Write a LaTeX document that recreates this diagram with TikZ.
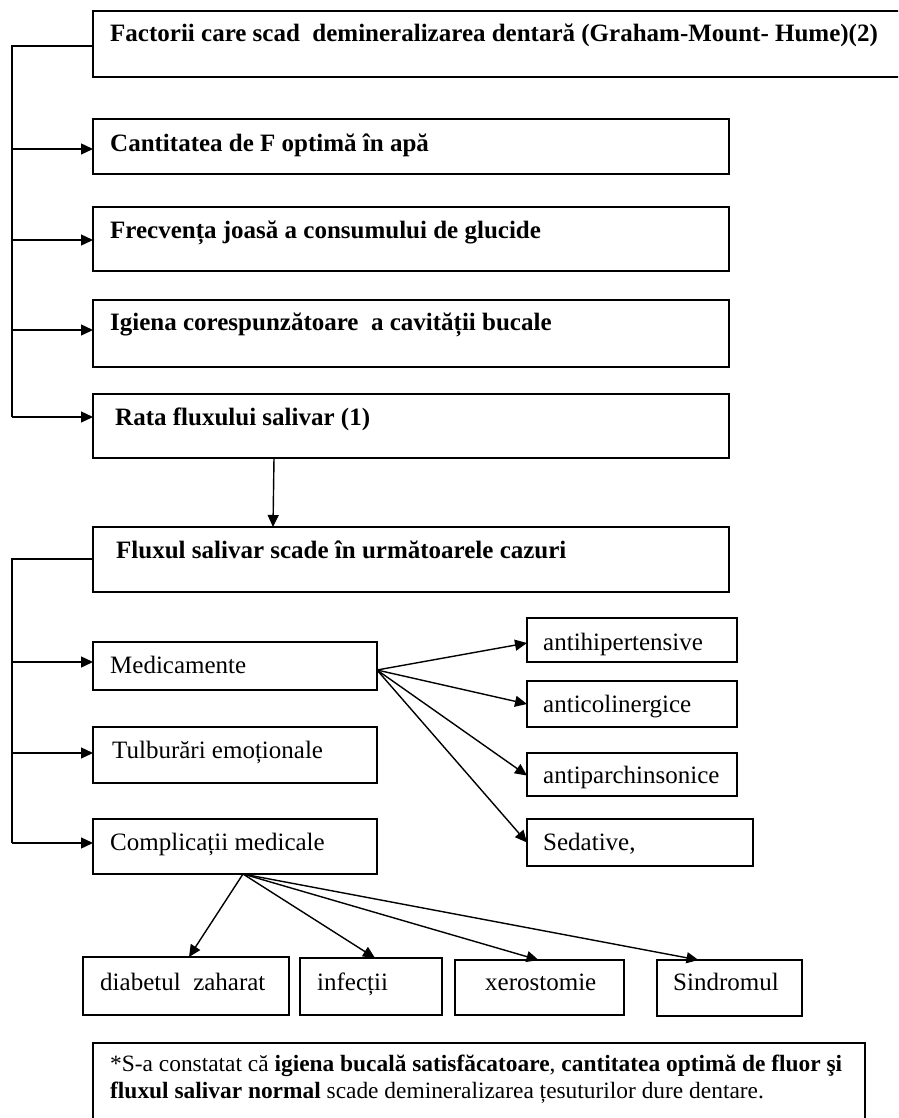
\documentclass[tikz,border=0pt]{standalone}
\usepackage{fontspec}
\setmainfont{Liberation Serif}
\usetikzlibrary{arrows.meta,calc}
% one unit = 1pt, y grows downwards
\newcommand\panel[5]{\node[frame, minimum width={#4-#2}, minimum height={#5-#3}] (#1) at (#2,#3) {};}
\begin{document}
\begin{tikzpicture}[x=1pt,y=-1pt,
  frame/.style={draw, line width=1.5pt, inner sep=0pt, outer sep=0pt, anchor=north west},
  lbl/.style={inner sep=0pt, anchor=base west, font=\fontsize{25}{28}\selectfont},
  blbl/.style={inner sep=0pt, anchor=base west, font=\fontsize{25}{28}\selectfont\bfseries},
  nlbl/.style={inner sep=0pt, anchor=base west, font=\fontsize{23.4}{27}\selectfont},
  wire/.style={line width=1.4pt},
  arr/.style={wire, -{Triangle[length=12pt,width=11pt]}}]
\useasboundingbox (0,0) rectangle (898,1118);
\fill[white] (0,0) rectangle (898,1118);
\begin{scope}
\clip (0,0) rectangle (898,1118);

% boxes
\panel{title}{93}{11}{920}{77}
\panel{cant}{93}{119}{729}{174}
\panel{frec}{93}{207}{729}{271}
\panel{igie}{93}{300}{729}{367}
\panel{rata}{93}{394}{729}{458}
\panel{flux}{93}{527}{729}{592}
\panel{med}{93}{642}{377}{690}
\panel{tulb}{93}{727}{377}{783}
\panel{compl}{93}{819}{377}{874}
\panel{ahip}{527}{618}{737}{662}
\panel{acol}{527}{681}{737}{727}
\panel{apar}{527}{753}{737}{796}
\panel{sed}{527}{819}{753}{866}
\panel{diab}{83}{957}{289}{1015}
\panel{inf}{300}{958}{442}{1015}
\panel{xer}{455}{960}{624}{1015}
\panel{sind}{657}{960}{802}{1016}
\panel{note}{93}{1043}{865}{1140}

% texts
\node[blbl] (tTitle) at (110,42) {Factorii care scad\ \ demineralizarea dentară (Graham-Mount- Hume)(2)};
\node[blbl] (tCant) at (110,152) {Cantitatea de F optimă în apă};
\node[blbl] (tFrec) at (110,238) {Frecvența joasă a consumului de glucide};
\node[blbl] (tIgie) at (110,330) {Igiena corespunzătoare\ \ a cavității bucale};
\node[blbl] (tRata) at (115,425) {Rata fluxului salivar (1)};
\node[blbl] (tFlux) at (116,558) {Fluxul salivar scade în următoarele cazuri};
\node[lbl] (tMed) at (110,673) {Medicamente};
\node[lbl] (tTulb) at (112,758) {Tulburări emoționale};
\node[lbl] (tCompl) at (110,850) {Complicații medicale};
\node[lbl] (tAhip) at (543,650) {antihipertensive};
\node[lbl] (tAcol) at (543,712) {anticolinergice};
\node[lbl] (tApar) at (543,783) {antiparchinsonice};
\node[lbl] (tSed) at (543,850) {Sedative,};
\node[lbl] (tDiab) at (100,990) {diabetul\ \ zaharat};
\node[lbl] (tInf) at (317,990) {infecții};
\node[lbl] (tXer) at (485,990) {xerostomie};
\node[lbl] (tSind) at (673,990) {Sindromul};
\node[nlbl] (tNote1) at (110,1071) {*S-a constatat că \textbf{igiena bucală satisfăcatoare}, \textbf{cantitatea optimă de fluor şi}};
\node[nlbl] (tNote2) at (110,1098) {\textbf{fluxul salivar normal} scade demineralizarea țesuturilor dure dentare.};

% first bracket
\coordinate (c0) at (12,46);
\coordinate (c1) at (12,149);
\coordinate (c2) at (12,240);
\coordinate (c3) at (12,330);
\coordinate (c4) at (12,417);
\draw[wire] (title.west |- c0) -- (c0) -- (c4);
\draw[arr] (c1) -- (cant.west |- c1);
\draw[arr] (c2) -- (frec.west |- c2);
\draw[arr] (c3) -- (igie.west |- c3);
\draw[arr] (c4) -- (rata.west |- c4);

% rate of flow to decrease box
\draw[arr] ($(rata.south west)+(181,0)$) -- ($(flux.north west)+(180,0)$);

% second bracket
\coordinate (d0) at (12,559);
\coordinate (d1) at (12,662);
\coordinate (d2) at (12,753);
\coordinate (d3) at (12,843);
\draw[wire] (flux.west |- d0) -- (d0) -- (d3);
\draw[arr] (d1) -- (med.west |- d1);
\draw[arr] (d2) -- (tulb.west |- d2);
\draw[arr] (d3) -- (compl.west |- d3);

% drugs fan
\coordinate (m0) at ($(med.east)+(0,4)$);
\draw[arr] (m0) -- ($(ahip.west)+(0,3)$);
\draw[arr] (m0) -- (acol.west);
\draw[arr] (m0) -- ($(apar.west)+(0,1)$);
\draw[arr] (m0) -- (sed.west);

% medical complications fan
\coordinate (k0) at ($(compl.south)+(8,0)$);
\draw[arr] (k0) -- ($(diab.north)+(3,0)$);
\draw[arr] (k0) -- ($(inf.north)+(4,0)$);
\draw[arr] (k0) -- ($(xer.north)+(-1,0)$);
\draw[arr] (k0) -- ($(sind.north)+(-31,0)$);
\end{scope}
\end{tikzpicture}
\end{document}
